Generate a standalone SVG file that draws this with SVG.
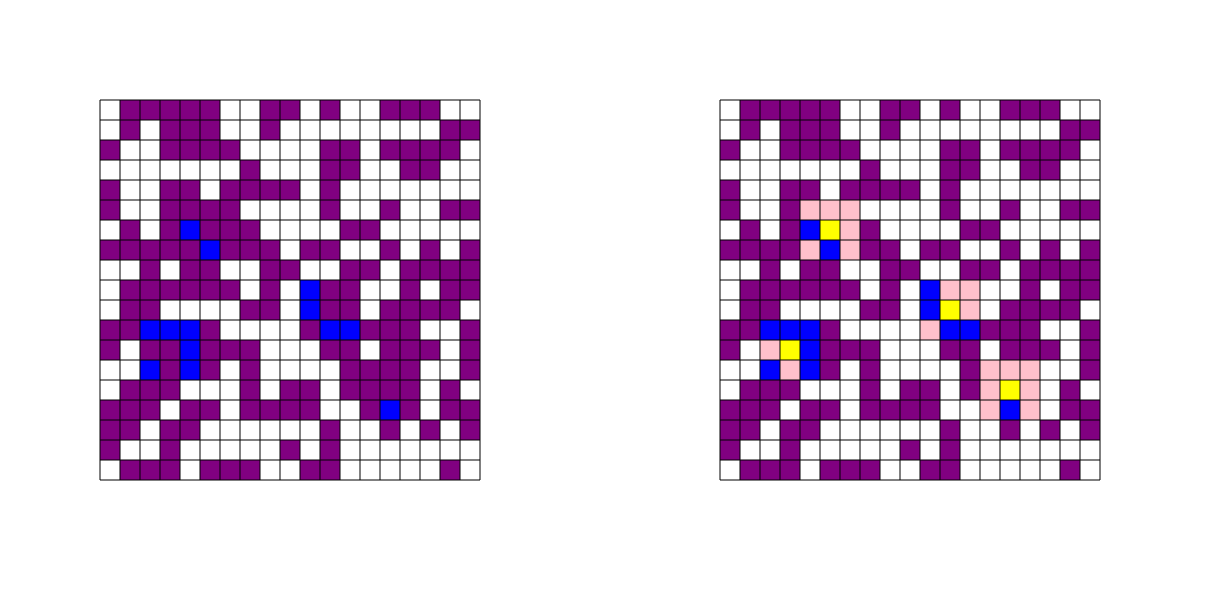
<svg xmlns="http://www.w3.org/2000/svg" xmlns:xlink="http://www.w3.org/1999/xlink" width="1220" height="600" viewBox="0 0 1220 600">
<style>
.p{fill:#800080}
.b{fill:#0000ff}
.k{fill:#ffc0cb}
.y{fill:#ffff00}
.grid{fill:none;stroke:#000;stroke-width:1}
.bg{fill:#fff}
</style>
<defs>
<path id="lines" class="grid" d="M100 100V480M120 100V480M140 100V480M160 100V480M180 100V480M200 100V480M220 100V480M240 100V480M260 100V480M280 100V480M300 100V480M320 100V480M340 100V480M360 100V480M380 100V480M400 100V480M420 100V480M440 100V480M460 100V480M480 100V480M100 100H480M100 120H480M100 140H480M100 160H480M100 180H480M100 200H480M100 220H480M100 240H480M100 260H480M100 280H480M100 300H480M100 320H480M100 340H480M100 360H480M100 380H480M100 400H480M100 420H480M100 440H480M100 460H480M100 480H480"/>
<g id="cells">
<rect class="bg" x="100" y="100" width="380" height="380"/>
<rect class="p" x="120" y="100" width="100" height="20"/><rect class="p" x="260" y="100" width="40" height="20"/><rect class="p" x="320" y="100" width="20" height="20"/><rect class="p" x="380" y="100" width="60" height="20"/>
<rect class="p" x="120" y="120" width="20" height="20"/><rect class="p" x="160" y="120" width="60" height="20"/><rect class="p" x="260" y="120" width="20" height="20"/><rect class="p" x="440" y="120" width="40" height="20"/>
<rect class="p" x="100" y="140" width="20" height="20"/><rect class="p" x="160" y="140" width="80" height="20"/><rect class="p" x="320" y="140" width="40" height="20"/><rect class="p" x="380" y="140" width="80" height="20"/>
<rect class="p" x="240" y="160" width="20" height="20"/><rect class="p" x="320" y="160" width="40" height="20"/><rect class="p" x="400" y="160" width="40" height="20"/>
<rect class="p" x="100" y="180" width="20" height="20"/><rect class="p" x="160" y="180" width="40" height="20"/><rect class="p" x="220" y="180" width="80" height="20"/><rect class="p" x="320" y="180" width="20" height="20"/>
<rect class="p" x="100" y="200" width="20" height="20"/><rect class="p" x="160" y="200" width="80" height="20"/><rect class="p" x="320" y="200" width="20" height="20"/><rect class="p" x="380" y="200" width="20" height="20"/><rect class="p" x="440" y="200" width="40" height="20"/>
<rect class="p" x="120" y="220" width="20" height="20"/><rect class="p" x="160" y="220" width="20" height="20"/><rect class="b" x="180" y="220" width="20" height="20"/><rect class="p" x="200" y="220" width="60" height="20"/><rect class="p" x="340" y="220" width="40" height="20"/>
<rect class="p" x="100" y="240" width="100" height="20"/><rect class="b" x="200" y="240" width="20" height="20"/><rect class="p" x="220" y="240" width="60" height="20"/><rect class="p" x="300" y="240" width="40" height="20"/><rect class="p" x="380" y="240" width="20" height="20"/><rect class="p" x="420" y="240" width="20" height="20"/><rect class="p" x="460" y="240" width="20" height="20"/>
<rect class="p" x="140" y="260" width="20" height="20"/><rect class="p" x="180" y="260" width="40" height="20"/><rect class="p" x="260" y="260" width="40" height="20"/><rect class="p" x="340" y="260" width="40" height="20"/><rect class="p" x="400" y="260" width="80" height="20"/>
<rect class="p" x="120" y="280" width="120" height="20"/><rect class="p" x="260" y="280" width="20" height="20"/><rect class="b" x="300" y="280" width="20" height="20"/><rect class="p" x="320" y="280" width="40" height="20"/><rect class="p" x="400" y="280" width="20" height="20"/><rect class="p" x="440" y="280" width="40" height="20"/>
<rect class="p" x="120" y="300" width="40" height="20"/><rect class="p" x="240" y="300" width="40" height="20"/><rect class="b" x="300" y="300" width="20" height="20"/><rect class="p" x="320" y="300" width="40" height="20"/><rect class="p" x="380" y="300" width="80" height="20"/>
<rect class="p" x="100" y="320" width="40" height="20"/><rect class="b" x="140" y="320" width="60" height="20"/><rect class="p" x="200" y="320" width="20" height="20"/><rect class="p" x="300" y="320" width="20" height="20"/><rect class="b" x="320" y="320" width="40" height="20"/><rect class="p" x="360" y="320" width="60" height="20"/><rect class="p" x="460" y="320" width="20" height="20"/>
<rect class="p" x="100" y="340" width="20" height="20"/><rect class="p" x="140" y="340" width="40" height="20"/><rect class="b" x="180" y="340" width="20" height="20"/><rect class="p" x="200" y="340" width="60" height="20"/><rect class="p" x="320" y="340" width="40" height="20"/><rect class="p" x="380" y="340" width="60" height="20"/><rect class="p" x="460" y="340" width="20" height="20"/>
<rect class="b" x="140" y="360" width="20" height="20"/><rect class="p" x="160" y="360" width="20" height="20"/><rect class="b" x="180" y="360" width="20" height="20"/><rect class="p" x="200" y="360" width="20" height="20"/><rect class="p" x="240" y="360" width="20" height="20"/><rect class="p" x="340" y="360" width="80" height="20"/><rect class="p" x="460" y="360" width="20" height="20"/>
<rect class="p" x="120" y="380" width="60" height="20"/><rect class="p" x="240" y="380" width="20" height="20"/><rect class="p" x="280" y="380" width="40" height="20"/><rect class="p" x="340" y="380" width="80" height="20"/><rect class="p" x="440" y="380" width="20" height="20"/>
<rect class="p" x="100" y="400" width="60" height="20"/><rect class="p" x="180" y="400" width="40" height="20"/><rect class="p" x="240" y="400" width="80" height="20"/><rect class="p" x="360" y="400" width="20" height="20"/><rect class="b" x="380" y="400" width="20" height="20"/><rect class="p" x="400" y="400" width="20" height="20"/><rect class="p" x="440" y="400" width="40" height="20"/>
<rect class="p" x="100" y="420" width="40" height="20"/><rect class="p" x="160" y="420" width="40" height="20"/><rect class="p" x="320" y="420" width="20" height="20"/><rect class="p" x="380" y="420" width="20" height="20"/><rect class="p" x="420" y="420" width="20" height="20"/><rect class="p" x="460" y="420" width="20" height="20"/>
<rect class="p" x="100" y="440" width="20" height="20"/><rect class="p" x="160" y="440" width="20" height="20"/><rect class="p" x="280" y="440" width="20" height="20"/><rect class="p" x="320" y="440" width="20" height="20"/>
<rect class="p" x="120" y="460" width="60" height="20"/><rect class="p" x="200" y="460" width="60" height="20"/><rect class="p" x="300" y="460" width="40" height="20"/><rect class="p" x="440" y="460" width="20" height="20"/>
</g>
</defs>
<rect x="0" y="0" width="1220" height="600" fill="#fff"/>
<g id="left-grid">
<use xlink:href="#cells" href="#cells"/>
<use xlink:href="#lines" href="#lines"/>
</g>
<g id="right-grid">
<use xlink:href="#cells" href="#cells" transform="translate(620,0)"/>
<g id="highlights">
<rect class="k" x="800" y="200" width="60" height="20"/>
<rect class="y" x="820" y="220" width="20" height="20"/><rect class="k" x="840" y="220" width="20" height="20"/>
<rect class="k" x="800" y="240" width="20" height="20"/><rect class="k" x="840" y="240" width="20" height="20"/>
<rect class="k" x="940" y="280" width="40" height="20"/>
<rect class="y" x="940" y="300" width="20" height="20"/><rect class="k" x="960" y="300" width="20" height="20"/>
<rect class="k" x="920" y="320" width="20" height="20"/>
<rect class="k" x="760" y="340" width="20" height="20"/><rect class="y" x="780" y="340" width="20" height="20"/>
<rect class="k" x="780" y="360" width="20" height="20"/>
<rect class="k" x="980" y="360" width="60" height="20"/>
<rect class="k" x="980" y="380" width="20" height="20"/><rect class="y" x="1000" y="380" width="20" height="20"/><rect class="k" x="1020" y="380" width="20" height="20"/>
<rect class="k" x="980" y="400" width="20" height="20"/><rect class="k" x="1020" y="400" width="20" height="20"/>
</g>
<use xlink:href="#lines" href="#lines" transform="translate(620,0)"/>
</g>
</svg>
